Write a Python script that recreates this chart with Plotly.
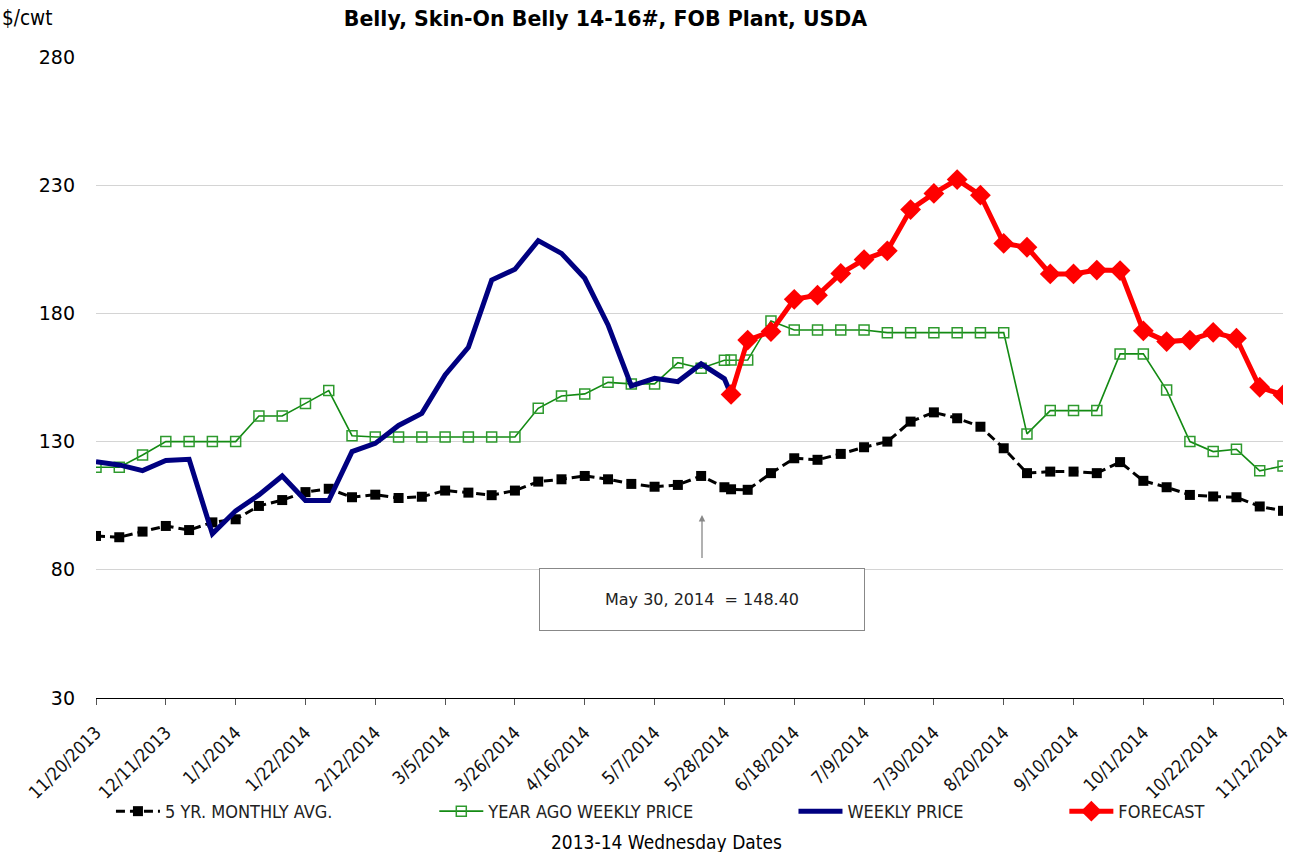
import plotly.graph_objects as go

# ---------------- data ----------------
dates = [
    "2013-11-20", "2013-11-27", "2013-12-04", "2013-12-11", "2013-12-18", "2013-12-25",
    "2014-01-01", "2014-01-08", "2014-01-15", "2014-01-22", "2014-01-29", "2014-02-05",
    "2014-02-12", "2014-02-19", "2014-02-26", "2014-03-05", "2014-03-12", "2014-03-19",
    "2014-03-26", "2014-04-02", "2014-04-09", "2014-04-16", "2014-04-23", "2014-04-30",
    "2014-05-07", "2014-05-14", "2014-05-21", "2014-05-28", "2014-05-30", "2014-06-04",
    "2014-06-11", "2014-06-18", "2014-06-25", "2014-07-02", "2014-07-09", "2014-07-16",
    "2014-07-23", "2014-07-30", "2014-08-06", "2014-08-13", "2014-08-20", "2014-08-27",
    "2014-09-03", "2014-09-10", "2014-09-17", "2014-09-24", "2014-10-01", "2014-10-08",
    "2014-10-15", "2014-10-22", "2014-10-29", "2014-11-05", "2014-11-12",
]

five_yr_avg = [
    93.2, 92.7, 94.9, 97.1, 95.5, 98.5,
    99.7, 104.9, 107.2, 110.3, 111.6, 108.3,
    109.3, 108.0, 108.5, 110.9, 110.1, 109.1,
    110.9, 114.4, 115.3, 116.6, 115.3, 113.5,
    112.4, 113.1, 116.6, 112.2, 111.4, 111.2,
    117.7, 123.5, 122.9, 125.2, 127.8, 130.0,
    137.8, 141.4, 139.1, 135.8, 127.4, 117.7,
    118.3, 118.3, 117.7, 122.0, 114.7, 112.2,
    109.2, 108.6, 108.3, 104.7, 103.0,
]

year_ago = [
    120.0, 120.0, 124.8, 130.0, 130.0, 130.0,
    130.0, 140.0, 140.0, 144.9, 149.9, 132.3,
    131.8, 131.8, 131.8, 131.8, 131.8, 131.8,
    131.8, 143.0, 147.8, 148.6, 153.1, 152.5,
    152.5, 160.8, 158.6, 161.7, 161.8, 161.8,
    177.0, 173.5, 173.5, 173.5, 173.5, 172.5,
    172.5, 172.5, 172.5, 172.5, 172.5, 133.0,
    142.1, 142.1, 142.1, 164.2, 164.2, 150.1,
    130.0, 126.1, 127.0, 118.6, 120.5,
]

weekly_price = [
    122.2, 120.9, 118.7, 122.6, 123.1, 94.0,
    103.0, 109.2, 116.6, 107.0, 107.0, 126.1,
    129.3, 136.3, 141.0, 156.0, 166.8, 193.0,
    197.2, 208.4, 203.4, 193.7, 175.5, 151.7,
    154.7, 153.4, 160.3, 154.5, 148.4, None,
    None, None, None, None, None, None,
    None, None, None, None, None, None,
    None, None, None, None, None, None,
    None, None, None, None, None,
]

forecast = [
    None, None, None, None, None, None,
    None, None, None, None, None, None,
    None, None, None, None, None, None,
    None, None, None, None, None, None,
    None, None, None, None, 148.4, 169.6,
    172.9, 185.5, 187.1, 195.6, 201.0, 204.4,
    220.5, 226.8, 232.2, 226.1, 207.3, 205.8,
    195.4, 195.4, 196.9, 196.7, 173.2, 169.0,
    169.6, 172.6, 170.3, 151.2, 148.2,
]

series_names = ["5 YR. MONTHLY AVG.", "YEAR AGO WEEKLY PRICE", "WEEKLY PRICE", "FORECAST"]
title_text = "Belly, Skin-On Belly 14-16#, FOB Plant, USDA"
y_unit = "$/cwt"
x_title = "2013-14 Wednesday Dates"
note_text = "May 30, 2014  = 148.40"
y_ticks = [30, 80, 130, 180, 230, 280]

# ---------------- styling ----------------
COND_FONT = "DejaVu Sans Condensed, DejaVu Sans, Liberation Sans, sans-serif"
TICK_FONT = "DejaVu Sans, Verdana, sans-serif"

fig = go.Figure()

fig.add_trace(go.Scatter(
    x=dates, y=five_yr_avg, name=series_names[0], mode="lines+markers",
    line=dict(color="#000000", width=3, dash="9px,5px"),
    marker=dict(symbol="square", size=10, color="#000000"),
    legend="legend",
))
fig.add_trace(go.Scatter(
    x=dates, y=year_ago, name=series_names[1], mode="lines+markers",
    line=dict(color="#138a13", width=1.6),
    marker=dict(symbol="square-open", size=10, color="#2e9a2e", line=dict(width=1.5)),
    legend="legend2",
))
fig.add_trace(go.Scatter(
    x=dates, y=weekly_price, name=series_names[2], mode="lines",
    line=dict(color="#000080", width=5),
    legend="legend3",
))
fig.add_trace(go.Scatter(
    x=dates, y=forecast, name=series_names[3], mode="lines+markers",
    line=dict(color="#ff0000", width=5),
    marker=dict(symbol="diamond", size=16, color="#ff0000"),
    legend="legend4",
))

leg_common = dict(orientation="h", yanchor="middle", y=-0.177, xanchor="left",
                  font=dict(family=COND_FONT, size=18, color="#222222"),
                  bgcolor="rgba(0,0,0,0)", itemwidth=44)

fig.update_layout(
    width=1294, height=852,
    margin=dict(l=96, r=11, t=57, b=154, autoexpand=False),
    paper_bgcolor="white", plot_bgcolor="white",
    showlegend=True,
    legend=dict(leg_common, x=0.0126),
    legend2=dict(leg_common, x=0.285),
    legend3=dict(leg_common, x=0.5876),
    legend4=dict(leg_common, x=0.8158),
    title=dict(text="<b>" + title_text + "</b>", x=605.5 / 1294, xanchor="center",
               y=1 - 19 / 852, yanchor="middle",
               font=dict(family=TICK_FONT, size=20.5, color="#000000")),
    xaxis=dict(
        type="date",
        range=["2013-11-20", "2014-11-12"],
        tick0="2013-11-20", dtick=21 * 86400000,
        tickformat="%-m/%-d/%Y", tickangle=-45,
        ticks="outside", ticklen=6, tickcolor="#555555", tickwidth=1,
        ticklabelstandoff=10, ticklabelshift=0, ticklabeloverflow="allow",
        showline=True, linecolor="#000000", linewidth=1,
        showgrid=False, zeroline=False,
        tickfont=dict(family=COND_FONT, size=18, color="#111111"),
    ),
    yaxis=dict(
        range=[30, 280], tickvals=y_ticks,
        showgrid=True, gridcolor="#d4d4d4", gridwidth=1.3,
        showline=False, zeroline=False, ticks="", ticklen=0,
        ticklabelstandoff=20,
        tickfont=dict(family=TICK_FONT, size=19, color="#000000"),
    ),
    annotations=[
        dict(text=y_unit, xref="paper", yref="paper", x=-0.0809, y=(698 - 18) / 641,
             xanchor="left", yanchor="middle", showarrow=False,
             font=dict(family=COND_FONT, size=20.5, color="#000000")),
        dict(text=x_title, xref="paper", yref="paper", x=(666 - 96) / 1187,
             y=(698 - 842) / 641, xanchor="center", yanchor="middle", showarrow=False,
             font=dict(family=COND_FONT, size=19, color="#000000")),
        dict(text=note_text, xref="paper", yref="paper",
             x=(702 - 96) / 1187, y=(698 - 515) / 641,
             ax=0, ay=84, axref="pixel", ayref="pixel",
             showarrow=True, arrowhead=2, arrowsize=1, arrowwidth=1.3,
             arrowcolor="#888888", startstandoff=10,
             width=324, height=61, borderpad=0, borderwidth=1,
             bordercolor="#888888", bgcolor="white",
             font=dict(family=TICK_FONT, size=16, color="#222222")),
    ],
)

fig.write_html(
    "out.html",
    config={"displayModeBar": False},
    post_script="document.body.style.margin='0';document.body.style.overflow='hidden';",
)
